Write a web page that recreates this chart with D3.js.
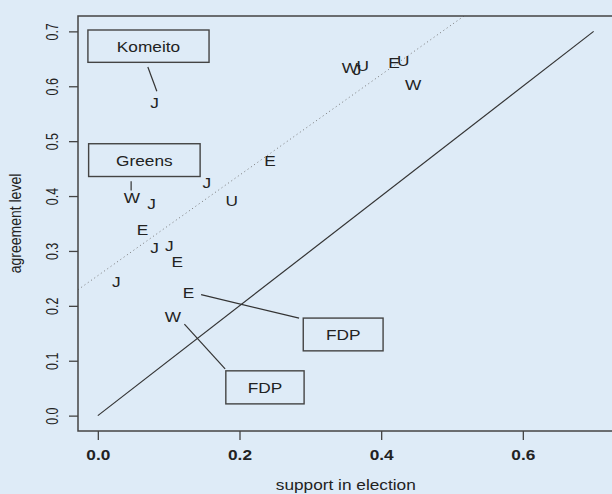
<!DOCTYPE html>
<html>
<head>
<meta charset="utf-8">
<script src="https://cdn.jsdelivr.net/npm/d3@7"></script>
<style>
  html, body { margin: 0; padding: 0; background: #deebf7; }
  svg { display: block; }
  text { font-family: "Liberation Sans", Arial, sans-serif; fill: #222; }
</style>
</head>
<body>
<div id="chart"></div>
<script>
// party letters (J = Japan, W = West Germany, E = East Germany, U = unified Germany)
const pointLabels = ["J", "W", "J", "J", "U", "E", "E", "J", "J", "E", "J", "E", "W", "W", "J", "U", "E", "U", "W"];
const supportVals = [0.080, 0.048, 0.076, 0.154, 0.189, 0.243, 0.063, 0.080, 0.101, 0.112, 0.026, 0.128, 0.106, 0.356, 0.366, 0.374, 0.418, 0.431, 0.445];
const agreementVals = [0.571, 0.397, 0.386, 0.425, 0.392, 0.465, 0.339, 0.307, 0.310, 0.280, 0.244, 0.224, 0.180, 0.634, 0.631, 0.637, 0.643, 0.647, 0.603];

const xTicks = [0.0, 0.2, 0.4, 0.6];
const yTicks = [0.0, 0.1, 0.2, 0.3, 0.4, 0.5, 0.6, 0.7];

// fitted line (dotted) and 45 degree line
const fitIntercept = 0.255;
const fitSlope = 0.915;

// labelled boxes in data units: [x0, x1, yTop, yBottom], leader line [x1, y1, x2, y2]
const boxNames = ["Komeito", "Greens", "FDP", "FDP"];
const boxRects = [
  [-0.014, 0.157, 0.7025, 0.6436],
  [-0.013, 0.1444, 0.4953, 0.4356],
  [0.290, 0.4027, 0.1777, 0.118],
  [0.1807, 0.2912, 0.0816, 0.0214]
];
const boxLeaders = [
  [0.0706, 0.635, 0.0833, 0.591],
  [0.047, 0.427, 0.047, 0.410],
  [0.1458, 0.2203, 0.2841, 0.1777],
  [0.1222, 0.1668, 0.1797, 0.0852]
];

const width = 612, height = 494;
const margin = { top: 16, right: -1.5, bottom: 63, left: 78 };
const sx = 1.15; // horizontal stretch of the original picture

const svg = d3.select("#chart").append("svg")
  .attr("width", width)
  .attr("height", height);

const x = d3.scaleLinear().domain([-0.028, 0.728]).range([margin.left, width - margin.right]);
const y = d3.scaleLinear().domain([-0.028, 0.728]).range([height - margin.bottom, margin.top]);

svg.append("clipPath").attr("id", "plotclip")
  .append("rect")
  .attr("x", x(-0.028)).attr("y", y(0.728))
  .attr("width", x(0.728) - x(-0.028)).attr("height", y(-0.028) - y(0.728));

const plot = svg.append("g").attr("clip-path", "url(#plotclip)");

// dotted regression line
plot.append("line")
  .attr("x1", x(-0.028)).attr("y1", y(fitIntercept + fitSlope * -0.028))
  .attr("x2", x(0.728)).attr("y2", y(fitIntercept + fitSlope * 0.728))
  .attr("stroke", "#777")
  .attr("stroke-width", 1)
  .attr("stroke-dasharray", "1,3");

// 45 degree line
plot.append("line")
  .attr("x1", x(0)).attr("y1", y(0))
  .attr("x2", x(0.7)).attr("y2", y(0.7))
  .attr("stroke", "#333")
  .attr("stroke-width", 1.2);

// boxes
boxRects.forEach((r, i) => {
  plot.append("rect")
    .attr("x", x(r[0])).attr("y", y(r[2]))
    .attr("width", x(r[1]) - x(r[0]))
    .attr("height", y(r[3]) - y(r[2]))
    .attr("fill", "none")
    .attr("stroke", "#444")
    .attr("stroke-width", 1.4);
  plot.append("text")
    .attr("transform", `translate(${x((r[0] + r[1]) / 2)},${y((r[2] + r[3]) / 2)}) scale(${sx},1)`)
    .attr("text-anchor", "middle")
    .attr("dy", "0.36em")
    .style("font-size", "15px")
    .text(boxNames[i]);
  const l = boxLeaders[i];
  plot.append("line")
    .attr("x1", x(l[0])).attr("y1", y(l[1]))
    .attr("x2", x(l[2])).attr("y2", y(l[3]))
    .attr("stroke", "#333")
    .attr("stroke-width", 1.2);
});

// point letters
plot.selectAll("text.pt")
  .data(pointLabels.map((lab, i) => ({ lab, sv: supportVals[i], av: agreementVals[i] })))
  .enter().append("text")
  .attr("class", "pt")
  .attr("transform", d => `translate(${x(d.sv)},${y(d.av)}) scale(${sx},1)`)
  .attr("text-anchor", "middle")
  .attr("dy", "0.36em")
  .style("font-size", "15px")
  .text(d => d.lab);

// plot frame
svg.append("rect")
  .attr("x", x(-0.028)).attr("y", y(0.728))
  .attr("width", x(0.728) - x(-0.028)).attr("height", y(-0.028) - y(0.728))
  .attr("fill", "none")
  .attr("stroke", "#444")
  .attr("stroke-width", 1.5);

// x axis
const xAxis = svg.append("g")
  .attr("transform", `translate(0,${y(-0.028)})`)
  .call(d3.axisBottom(x).tickValues(xTicks).tickSize(9).tickFormat(d3.format(".1f")));
xAxis.select(".domain").remove();
xAxis.selectAll(".tick line").attr("stroke", "#444").attr("stroke-width", 1.3);
xAxis.selectAll(".tick text")
  .attr("y", 0).attr("dy", 0)
  .attr("transform", `translate(0,25) scale(${sx},1)`)
  .attr("dominant-baseline", "middle")
  .style("font-size", "15px")
  .style("font-family", "'Liberation Sans', Arial, sans-serif")
  .style("font-weight", "bold")
  .attr("fill", "#222");

// y axis
const yAxis = svg.append("g")
  .attr("transform", `translate(${x(-0.028)},0)`)
  .call(d3.axisLeft(y).tickValues(yTicks).tickSize(9).tickFormat(d3.format(".1f")));
yAxis.select(".domain").remove();
yAxis.selectAll(".tick line").attr("stroke", "#444").attr("stroke-width", 1.3);
yAxis.selectAll(".tick text")
  .attr("x", 0).attr("dy", 0)
  .attr("transform", "translate(-24,0) rotate(-90) scale(1,1.3)")
  .attr("text-anchor", "middle")
  .attr("dominant-baseline", "middle")
  .style("font-size", "12.5px")
  .style("font-family", "'Liberation Sans', Arial, sans-serif")
  .attr("fill", "#222");

// axis titles
svg.append("text")
  .attr("transform", `translate(${(x(-0.028) + x(0.728)) / 2},${486}) scale(${sx},1)`)
  .attr("text-anchor", "middle")
  .attr("dominant-baseline", "middle")
  .style("font-size", "15px")
  .text("support in election");

svg.append("text")
  .attr("transform", `translate(17,${(y(-0.028) + y(0.728)) / 2}) rotate(-90) scale(1,1.2)`)
  .attr("text-anchor", "middle")
  .attr("dominant-baseline", "middle")
  .style("font-size", "14px")
  .text("agreement level");
</script>
</body>
</html>
